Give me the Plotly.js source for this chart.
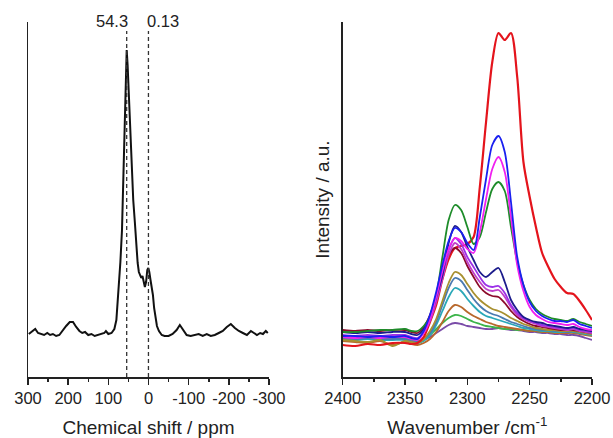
<!DOCTYPE html>
<html>
<head>
<meta charset="utf-8">
<script src="https://cdn.plot.ly/plotly-3.0.1.min.js"></script>
<style>html,body{margin:0;padding:0;background:#fff;}#chart{width:613px;height:438px;}</style>
</head>
<body>
<div id="chart"></div>
<script>
// ---------- Left panel: NMR spectrum ----------
const ppm = [298, 290, 282, 275, 268, 260, 252, 245, 238, 230, 222, 215, 205, 196, 188, 180, 172, 165, 158, 150,
  142, 134, 126, 118, 110, 106, 100, 92, 85, 80, 75, 70, 66, 62, 59, 56, 54.3, 52, 50, 46,
  42, 38, 34, 30, 27, 24, 21, 18, 15, 12, 9, 6, 3, 0.5, -2, -5, -8, -11, -14, -17,
  -21, -26, -33, -40, -50, -60, -70, -78, -86, -95, -105, -115, -125, -135, -145, -155, -165, -175, -185, -195,
  -205, -215, -225, -235, -245, -255, -262, -270, -278, -285, -292, -297];
const nmrIntensity = [43, 46, 48, 44, 43, 42, 44, 42, 43, 41, 42, 46, 51, 55, 55, 50, 46, 44, 45, 42,
  43, 41, 42, 43, 44, 46, 43, 44, 48, 57, 84, 115, 147, 217, 267, 317, 327, 312, 292, 252,
  210, 177, 155, 127, 114, 105, 101, 99, 101, 95, 90, 95, 107, 109, 105, 97, 90, 82, 69, 59,
  51, 46, 42, 41, 41, 43, 47, 52, 47, 42, 41, 42, 43, 41, 43, 41, 42, 44, 46, 50,
  53, 49, 46, 44, 42, 46, 44, 42, 44, 43, 46, 44];
const peakPositions = [54.3, 0.13];
const peakLabels = ["54.3", "0.13"];
const nmrTicks = [300, 200, 100, 0, -100, -200, -300];

// ---------- Right panel: IR spectra ----------
const wavenumber = [2400, 2390, 2380, 2370, 2360, 2350, 2345, 2340, 2335, 2330, 2325, 2320, 2315, 2310, 2305, 2300, 2295, 2290,
  2285, 2280, 2275, 2270, 2265, 2260, 2255, 2250, 2245, 2240, 2235, 2230, 2225, 2220, 2215, 2210, 2205, 2200];
const irRed     = [32, 31, 33, 32, 34, 34, 33, 34, 40, 55, 72, 98, 118, 129, 131, 133, 140, 190, 255, 315, 344, 337, 344, 300, 215, 180, 150, 124, 110, 98, 90, 84, 83, 76, 67, 57];
const irBlue    = [41, 41, 40, 41, 40, 41, 39, 38, 46, 62, 85, 112, 136, 149, 145, 134, 127, 160, 198, 232, 241, 225, 175, 120, 92, 75, 66, 61, 58, 56, 56, 55, 57, 53, 51, 49];
const irMagenta = [40, 39, 40, 39, 40, 40, 38, 37, 44, 58, 80, 106, 128, 139, 136, 128, 124, 145, 178, 208, 220, 205, 160, 112, 86, 70, 62, 58, 55, 54, 53, 52, 53, 50, 48, 47];
const irGreen   = [45, 45, 46, 47, 47, 48, 46, 46, 51, 60, 81, 120, 157, 172, 167, 150, 133, 140, 165, 188, 195, 186, 150, 115, 92, 77, 68, 63, 60, 58, 57, 56, 58, 55, 53, 51];
const irNavy    = [45, 44, 45, 44, 45, 45, 43, 42, 48, 61, 80, 102, 134, 151, 145, 130, 117, 105, 100, 105, 109, 95, 77, 67, 60, 57, 55, 54, 52, 51, 50, 49, 50, 48, 47, 46];
const irViolet  = [42, 41, 42, 41, 42, 42, 40, 39, 45, 58, 78, 102, 127, 139, 133, 120, 110, 100, 92, 90, 91, 84, 72, 64, 59, 56, 54, 52, 51, 50, 49, 48, 49, 47, 46, 45];
const irOrchid  = [41, 40, 41, 40, 41, 40, 39, 38, 44, 56, 75, 98, 122, 134, 128, 115, 104, 95, 88, 86, 87, 80, 70, 62, 58, 55, 53, 51, 50, 49, 48, 47, 48, 46, 45, 44];
const irWine    = [47, 46, 47, 46, 47, 47, 45, 44, 50, 62, 80, 104, 122, 129, 124, 111, 100, 90, 84, 81, 80, 74, 66, 60, 56, 53, 51, 50, 49, 48, 47, 47, 47, 46, 45, 44];
const irOlive   = [37, 36, 35, 37, 31, 36, 35, 34, 38, 46, 58, 76, 94, 105, 102, 93, 84, 77, 72, 68, 66, 63, 59, 56, 53, 51, 49, 48, 47, 47, 46, 46, 46, 45, 44, 43];
const irSteel   = [39, 38, 39, 38, 38, 38, 36, 35, 38, 44, 55, 72, 89, 99, 96, 87, 78, 71, 66, 63, 61, 58, 55, 53, 51, 49, 48, 47, 47, 46, 46, 45, 46, 45, 44, 43];
const irTeal    = [38, 37, 38, 37, 37, 37, 35, 34, 36, 42, 52, 66, 80, 89, 86, 78, 71, 65, 61, 59, 57, 55, 53, 51, 49, 48, 47, 46, 46, 45, 45, 45, 45, 44, 43, 42];
const irOrange  = [36, 35, 34, 36, 32, 35, 33, 32, 34, 38, 45, 55, 66, 72, 70, 65, 61, 58, 55, 53, 51, 50, 49, 48, 47, 46, 46, 45, 45, 44, 44, 44, 44, 43, 42, 41];
const irLime    = [40, 39, 40, 39, 39, 39, 37, 36, 38, 42, 48, 54, 59, 62, 61, 58, 55, 53, 51, 50, 49, 48, 48, 47, 47, 46, 46, 45, 45, 45, 45, 44, 45, 44, 43, 42];
const irPurple  = [39, 38, 39, 38, 38, 38, 36, 35, 37, 40, 44, 48, 52, 54, 53, 51, 50, 49, 48, 48, 49, 48, 47, 47, 46, 45, 45, 44, 44, 43, 43, 42, 42, 41, 39, 37];
const irTicks = [2400, 2350, 2300, 2250, 2200];

// ---------- styles ----------
const irSeries = [
  {y: irPurple,  color: '#7a4ca8'},
  {y: irLime,    color: '#3cb44a'},
  {y: irOrange,  color: '#b8682c'},
  {y: irTeal,    color: '#2aa8b8'},
  {y: irSteel,   color: '#4a7ab0'},
  {y: irOlive,   color: '#a89030'},
  {y: irRed,     color: '#e4141c'},
  {y: irWine,    color: '#8b0a2a'},
  {y: irOrchid,  color: '#c040c8'},
  {y: irViolet,  color: '#9b30e8'},
  {y: irNavy,    color: '#1c1c8c'},
  {y: irGreen,   color: '#1e8c2a'},
  {y: irMagenta, color: '#f020f0'},
  {y: irBlue,    color: '#1a20f0'}
];

const FONT = 'Liberation Sans, Arial, Helvetica, sans-serif';
const traces = [{
  x: ppm, y: nmrIntensity, type: 'scatter', mode: 'lines',
  line: {color: '#111', width: 2}, xaxis: 'x', yaxis: 'y', hoverinfo: 'skip'
}];
irSeries.forEach(s => traces.push({
  x: wavenumber, y: s.y, type: 'scatter', mode: 'lines',
  line: {color: s.color, width: s.color === '#e4141c' ? 2.2 : 1.8, shape: 'spline', smoothing: 0.8},
  xaxis: 'x2', yaxis: 'y2', hoverinfo: 'skip'
}));

const axisCommon = {
  showgrid: false, zeroline: false, showline: true, linecolor: '#222', linewidth: 1.5,
  ticks: 'outside', ticklen: 6, tickwidth: 1.5, tickcolor: '#222',
  tickfont: {family: FONT, size: 16.5, color: '#222'}, ticklabelstandoff: 0
};

const shapes = peakPositions.map(p => ({
  type: 'line', xref: 'x', yref: 'paper', x0: p, x1: p, y0: 0, y1: 0.975,
  line: {color: '#333', width: 1.3, dash: '4px,3px'}, layer: 'above'
}));
const annotations = peakPositions.map((p, i) => ({
  x: p, xref: 'x', y: 1.003, yref: 'paper', text: peakLabels[i], showarrow: false,
  xanchor: i === 0 ? 'right' : 'left', yanchor: 'middle', xshift: i === 0 ? 3 : -3,
  font: {family: FONT, size: 16.5, color: '#222'}
}));

const layout = {
  width: 613, height: 438, showlegend: false,
  paper_bgcolor: '#fff', plot_bgcolor: '#fff',
  margin: {l: 28, r: 21, t: 22, b: 61},
  xaxis: Object.assign({}, axisCommon, {
    domain: [0, 0.4273], range: [300, -300], anchor: 'y',
    tickvals: nmrTicks, ticktext: nmrTicks.map(String),
    minor: {dtick: 50, ticks: 'outside', ticklen: 3.5, tickwidth: 1.5, tickcolor: '#222'},
    title: {text: 'Chemical shift / ppm', font: {family: FONT, size: 19, color: '#222'}, standoff: 17}
  }),
  yaxis: {
    domain: [0, 1], range: [0, 355], anchor: 'x', showgrid: false, zeroline: false,
    showline: true, linecolor: '#222', linewidth: 1.5, ticks: '', showticklabels: false
  },
  xaxis2: Object.assign({}, axisCommon, {
    domain: [0.558, 1], range: [2400, 2200], anchor: 'y2',
    tickvals: irTicks, ticktext: irTicks.map(String),
    minor: {dtick: 25, ticks: 'outside', ticklen: 3.5, tickwidth: 1.5, tickcolor: '#222'},
    title: {text: 'Wavenumber /cm<sup>-1</sup>', font: {family: FONT, size: 19, color: '#222'}, standoff: 17}
  }),
  yaxis2: {
    domain: [0, 1], range: [0, 355], anchor: 'x2', showgrid: false, zeroline: false,
    showline: true, linecolor: '#222', linewidth: 1.5, ticks: '', showticklabels: false,
    title: {text: 'Intensity / a.u.', font: {family: FONT, size: 19, color: '#222'}, standoff: 6}
  },
  shapes: shapes,
  annotations: annotations
};

Plotly.newPlot('chart', traces, layout, {staticPlot: true, displayModeBar: false});
</script>
</body>
</html>
